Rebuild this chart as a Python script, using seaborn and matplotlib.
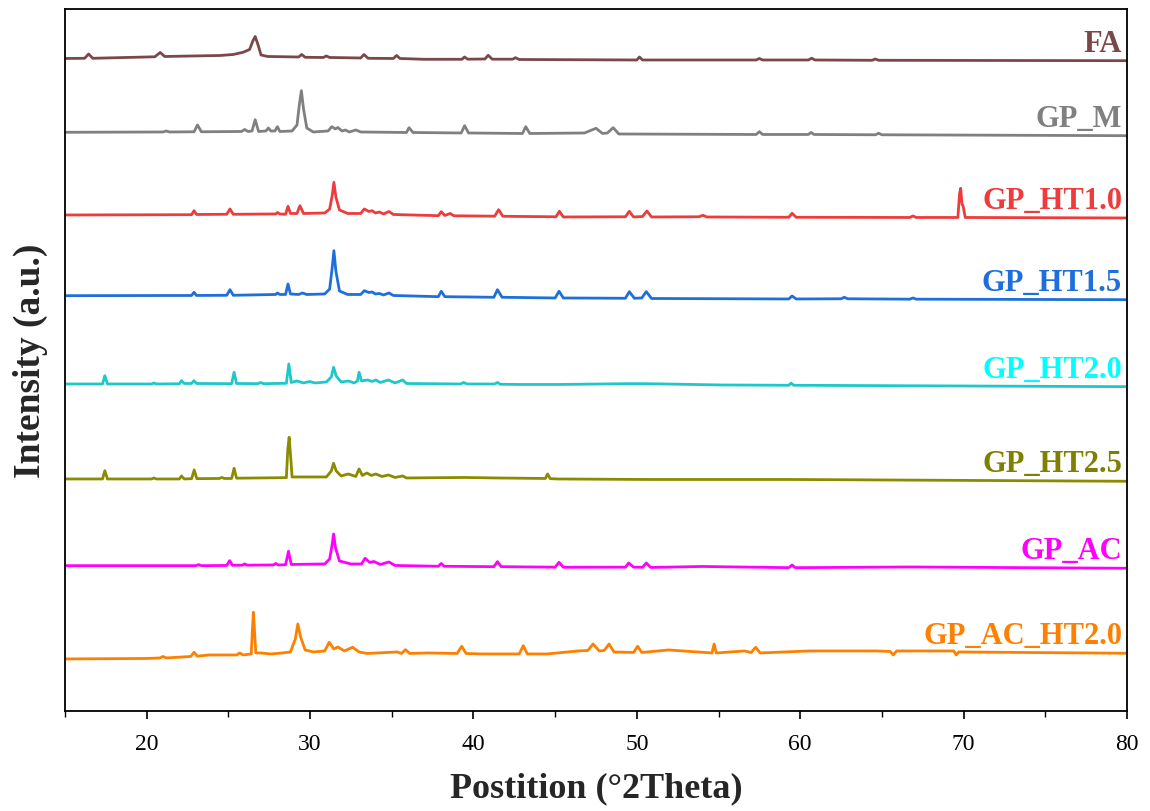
import numpy as np
import pandas as pd
import matplotlib
matplotlib.use("Agg")
import matplotlib.pyplot as plt
import seaborn as sns
from matplotlib.ticker import MultipleLocator

# ---------------- data (intensities in a.u.) ----------------
series_names = ["FA", "GP_M", "GP_HT1.0", "GP_HT1.5", "GP_HT2.0", "GP_HT2.5", "GP_AC", "GP_AC_HT2.0"]
offsets = [652, 578, 496, 415, 327, 232, 145, 52]

fa_x = [15.0, 16.2, 16.45, 16.7, 20.5, 20.83, 21.1, 24.5, 25.3, 25.9, 26.3, 26.5, 26.64, 26.8, 27.0, 27.4,
        29.3, 29.49, 29.7, 30.8, 31.0, 31.2, 33.1, 33.3, 33.55, 35.1, 35.3, 35.5, 37.0, 39.3, 39.45, 39.65,
        40.7, 40.9, 41.15, 42.4, 42.57, 42.8, 50.0, 50.16, 50.35, 57.3, 57.5, 57.7, 60.5, 60.7, 60.9,
        64.4, 64.6, 64.8, 80.0]
fa_y = [0.5, 0.7, 5.0, 0.7, 2.2, 6.5, 2.5, 3.5, 4.5, 6.7, 9.5, 18.0, 22.5, 15.0, 4.0, 2.5,
        2.0, 4.5, 1.7, 1.5, 3.0, 1.5, 1.0, 4.5, 0.7, 0.5, 3.5, 0.5, -0.3, -0.3, 2.0, -0.2,
        0.0, 3.7, -0.2, -0.2, 1.3, -0.5, -1.0, 2.0, -1.0, -1.0, 0.5, -1.0, -1.0, 0.8, -1.0,
        -1.3, 0.0, -1.3, -1.7]

gpm_x = [15.0, 21.0, 21.2, 21.4, 22.9, 23.11, 23.35, 25.8, 26.0, 26.2, 26.45, 26.64, 26.85, 27.3, 27.45,
         27.6, 27.85, 28.0, 28.15, 28.9, 29.2, 29.35, 29.47, 29.6, 29.8, 30.2, 31.1, 31.33, 31.55, 31.7,
         31.95, 32.16, 32.4, 32.8, 33.1, 35.9, 36.06, 36.3, 39.25, 39.46, 39.7, 43.0, 43.2, 43.45, 46.8,
         47.5, 47.9, 48.2, 48.55, 48.9, 57.3, 57.5, 57.7, 60.5, 60.66, 60.85, 64.6, 64.8, 65.0, 80.0]
gpm_y = [0.7, 1.0, 2.0, 1.0, 1.2, 8.0, 1.2, 1.5, 3.5, 1.5, 2.0, 13.3, 1.5, 2.0, 5.0,
         2.0, 2.0, 6.3, 1.5, 2.0, 8.0, 29.0, 42.3, 24.0, 5.0, 1.0, 2.0, 6.3, 4.0, 5.5,
         2.0, 3.0, 1.0, 3.0, 1.0, 0.5, 5.3, 0.5, 0.0, 7.3, 0.0, -0.5, 6.3, -0.5, 0.0,
         4.7, -0.5, 0.0, 5.3, -1.0, -1.5, 1.3, -1.5, -1.5, 0.5, -1.5, -1.8, -0.3, -1.8, -2.7]

ht10_x = [15.0, 22.75, 22.9, 23.05, 24.9, 25.1, 25.3, 27.9, 28.0, 28.15, 28.5, 28.65, 28.8, 29.2, 29.38,
          29.6, 30.9, 31.2, 31.36, 31.46, 31.58, 31.8, 32.3, 33.1, 33.32, 33.6, 33.8, 34.0, 34.24, 34.5,
          34.83, 35.1, 37.85, 38.03, 38.25, 38.58, 38.8, 41.3, 41.54, 41.8, 45.05, 45.26, 45.5, 49.3,
          49.54, 49.8, 50.35, 50.62, 50.9, 53.8, 54.04, 54.3, 59.3, 59.5, 59.75, 66.7, 66.9, 67.1,
          69.65, 69.75, 69.82, 69.9, 69.97, 70.1, 80.0]
ht10_y = [0.0, 0.3, 4.3, 0.5, 0.7, 6.0, 0.7, 1.0, 2.5, 1.0, 0.7, 8.7, 1.5, 1.5, 9.3,
          1.5, 2.0, 6.0, 20.0, 32.7, 18.0, 5.0, 1.5, 1.5, 6.0, 3.5, 4.3, 2.0, 3.0, 1.0,
          3.5, 0.5, -0.7, 3.3, -0.5, 1.5, -0.8, -1.2, 5.3, -1.3, -1.8, 3.7, -2.0, -1.8,
          3.7, -2.0, -1.5, 4.0, -2.0, -1.8, -0.3, -2.0, -2.3, 1.7, -2.3, -2.5, -1.0, -2.5,
          -2.5, 21.0, 26.7, 11.0, 9.0, -2.5, -3.0]

ht15_x = [15.0, 22.75, 22.9, 23.05, 24.9, 25.1, 25.3, 27.9, 28.0, 28.15, 28.5, 28.65, 28.8, 29.3, 29.53,
          29.8, 30.9, 31.2, 31.36, 31.46, 31.58, 31.8, 32.3, 33.1, 33.32, 33.6, 33.8, 34.0, 34.24, 34.5,
          34.83, 35.1, 37.85, 38.03, 38.25, 41.25, 41.47, 41.75, 45.0, 45.24, 45.5, 49.3, 49.54, 49.85,
          50.3, 50.58, 50.9, 59.3, 59.5, 59.75, 62.5, 62.7, 62.9, 66.7, 66.9, 67.1, 80.0]
ht15_y = [0.3, 0.5, 3.7, 0.5, 0.7, 6.3, 0.7, 1.5, 3.0, 1.5, 1.5, 12.0, 2.0, 1.5, 3.0,
          1.5, 2.0, 7.0, 29.0, 45.3, 25.0, 5.0, 1.5, 1.5, 5.3, 3.5, 4.0, 2.0, 2.5, 1.0,
          3.0, 0.5, -0.7, 4.7, -0.7, -1.3, 6.3, -1.3, -2.0, 4.7, -2.0, -2.3, 4.3, -2.3,
          -2.0, 4.3, -2.5, -3.0, 0.0, -3.0, -2.8, -1.3, -2.8, -3.2, -2.0, -3.2, -3.7]

ht20_x = [15.0, 17.3, 17.44, 17.6, 20.3, 20.44, 20.6, 22.0, 22.13, 22.3, 22.75, 22.89, 23.05, 25.2, 25.35,
          25.5, 26.8, 26.97, 27.15, 28.55, 28.7, 28.85, 29.2, 29.6, 29.97, 30.3, 31.0, 31.3, 31.44, 31.6,
          31.9, 32.34, 32.7, 32.9, 33.0, 33.15, 33.52, 33.8, 34.02, 34.3, 34.8, 35.2, 35.67, 35.9, 39.2,
          39.4, 39.6, 41.3, 41.47, 41.65, 42.83, 45.2, 49.47, 50.58, 55.2, 59.3, 59.44, 59.6, 80.0]
ht20_y = [0.0, 0.0, 8.3, 0.0, 0.0, 1.0, 0.0, 0.2, 3.3, 0.5, 0.5, 3.3, 0.5, 0.3, 11.7,
          0.5, 0.3, 1.5, 0.3, 0.7, 20.0, 1.5, 3.0, 1.0, 2.5, 1.0, 2.0, 7.0, 16.7, 8.0,
          2.0, 3.0, 1.0, 3.0, 11.7, 3.0, 4.0, 2.5, 4.0, 1.5, 4.0, 1.0, 4.0, 0.5, 0.0,
          1.5, 0.0, 0.0, 1.5, -0.3, -0.5, -0.5, 0.3, 0.3, -1.0, -1.3, 0.8, -1.3, -2.7]

ht25_x = [15.0, 17.3, 17.44, 17.6, 20.3, 20.44, 20.6, 22.0, 22.13, 22.3, 22.75, 22.91, 23.07, 24.45, 24.6,
          24.75, 25.2, 25.35, 25.5, 28.55, 28.64, 28.72, 28.8, 28.9, 29.97, 31.0, 31.3, 31.44, 31.6,
          31.9, 32.34, 32.8, 33.0, 33.2, 33.48, 33.75, 34.02, 34.4, 34.8, 35.2, 35.67, 35.9, 39.4,
          41.47, 44.4, 44.54, 44.7, 45.2, 50.6, 59.44, 80.0]
ht25_y = [0.0, 0.0, 8.3, 0.0, 0.0, 1.0, 0.0, 0.0, 3.0, 0.0, 0.3, 9.0, 0.3, 0.5, 1.5,
          0.5, 0.5, 10.7, 0.8, 1.3, 30.0, 41.7, 25.0, 2.0, 2.0, 2.0, 8.0, 15.7, 8.0,
          3.0, 5.0, 2.5, 10.0, 3.5, 6.0, 3.5, 5.0, 2.5, 4.0, 1.5, 3.0, 1.0, 1.5,
          1.0, 0.5, 5.0, 0.3, 0.0, -0.5, -0.5, -2.3]

ac_x = [15.0, 23.0, 23.18, 23.35, 24.9, 25.08, 25.25, 25.85, 26.0, 26.15, 27.75, 27.9, 28.05, 28.5, 28.68,
        28.85, 30.9, 31.2, 31.34, 31.44, 31.56, 31.8, 32.5, 33.15, 33.37, 33.65, 33.9, 34.3, 34.83, 35.2,
        37.85, 38.03, 38.2, 41.25, 41.47, 41.7, 45.0, 45.24, 45.5, 49.3, 49.5, 49.8, 50.35, 50.58, 50.85,
        54.0, 59.3, 59.5, 59.7, 66.8, 80.0]
ac_y = [0.3, 0.3, 1.3, 0.3, 0.5, 5.3, 0.7, 0.8, 2.0, 0.8, 1.0, 2.5, 1.0, 1.2, 14.7,
        1.5, 2.0, 7.0, 20.0, 32.0, 18.0, 5.0, 2.0, 2.0, 7.7, 3.5, 4.5, 1.5, 4.0, 0.5,
        -0.3, 2.5, -0.3, -0.7, 4.3, -0.7, -1.2, 3.7, -1.3, -1.2, 3.0, -1.2, -1.3, 3.0, -1.5,
        -0.5, -1.7, 1.0, -1.7, -1.0, -2.3]

acht_x = [15.0, 20.0, 20.8, 21.0, 21.2, 22.7, 22.9, 23.1, 23.83, 25.5, 25.7, 25.9, 26.4, 26.47, 26.53,
          26.6, 26.68, 27.0, 27.62, 28.3, 28.8, 29.1, 29.25, 29.42, 29.7, 30.2, 30.9, 31.17, 31.45,
          31.7, 32.1, 32.6, 33.0, 33.5, 35.34, 35.6, 35.84, 36.1, 37.2, 39.0, 39.28, 39.55, 40.5, 42.8,
          43.05, 43.3, 44.5, 46.4, 47.0, 47.32, 47.7, 48.0, 48.3, 48.6, 49.8, 50.05, 50.3, 51.94, 54.6,
          54.73, 54.86, 56.58, 57.0, 57.27, 57.55, 60.55, 64.65, 65.5, 65.7, 65.9, 69.4, 69.55, 69.7, 80.0]
acht_y = [0.0, 0.5, 1.0, 2.5, 1.0, 2.5, 6.7, 2.8, 4.0, 4.0, 6.0, 4.0, 5.0, 28.0, 46.7,
          28.0, 6.0, 6.0, 5.0, 6.0, 7.0, 20.0, 35.0, 22.0, 9.0, 7.0, 8.0, 16.7, 10.0,
          12.0, 8.0, 11.7, 7.0, 5.5, 7.0, 5.5, 9.3, 5.5, 6.0, 5.5, 12.7, 5.5, 5.0, 5.0,
          13.3, 5.0, 5.0, 8.0, 8.5, 15.0, 8.0, 8.5, 15.0, 7.0, 6.5, 12.7, 6.5, 9.0, 6.0,
          15.0, 6.0, 8.0, 6.5, 11.7, 6.0, 8.0, 8.0, 7.5, 4.0, 8.0, 8.0, 4.0, 7.0, 5.7]

series_x = [fa_x, gpm_x, ht10_x, ht15_x, ht20_x, ht25_x, ac_x, acht_x]
series_y = [fa_y, gpm_y, ht10_y, ht15_y, ht20_y, ht25_y, ac_y, acht_y]

line_colors = ["#7A4848", "#808080", "#EE3B3B", "#1E6FDC", "#1EC8C8", "#8B8B00", "#FF00FF", "#FF8000"]
label_colors = ["#7A4848", "#808080", "#EE3B3B", "#1E6FDC", "#00FFFF", "#808000", "#FF00FF", "#FF8000"]

x_ticks = [20, 30, 40, 50, 60, 70, 80]

# ---------------- build table ----------------
frames = []
for name, xs, ys, off in zip(series_names, series_x, series_y, offsets):
    frames.append(pd.DataFrame({"theta": xs, "intensity": np.array(ys) + off, "sample": name}))
df = pd.concat(frames, ignore_index=True)

# ---------------- plot ----------------
sns.set_theme(style="ticks")
plt.rcParams["font.family"] = ["Liberation Serif", "DejaVu Serif"]

fig = plt.figure(figsize=(11.5, 8.12), dpi=100)
ax = fig.add_axes([0.0565, 0.1232, 0.9235, 0.8645])

sns.lineplot(data=df, x="theta", y="intensity", hue="sample", hue_order=series_names,
             palette=dict(zip(series_names, line_colors)), estimator=None, sort=False,
             linewidth=2.0, legend=False, ax=ax)

for name, ys, off, col in zip(series_names, series_y, offsets, label_colors):
    ax.text(79.7, off + ys[-1] + 10, name, color=col, fontsize=22, fontweight="bold",
            ha="right", va="baseline")

ax.set_xlim(15, 80)
ax.set_ylim(0, 702)
ax.set_xticks(x_ticks)
ax.xaxis.set_minor_locator(MultipleLocator(5))
ax.set_yticks([])
ax.tick_params(axis="x", which="major", direction="out", length=6, width=1.2, labelsize=17,
               color="black", labelcolor="black", pad=10)
ax.tick_params(axis="x", which="minor", direction="out", length=4, width=1.0, color="black")
for s in ax.spines.values():
    s.set_visible(True)
    s.set_color("black")
    s.set_linewidth(1.3)

ax.set_xlabel("Postition (°2Theta)", fontsize=26, fontweight="bold", labelpad=12)
ax.set_ylabel("Intensity (a.u.)", fontsize=27, fontweight="bold", labelpad=12)

fig.savefig("out.png", dpi=100)
